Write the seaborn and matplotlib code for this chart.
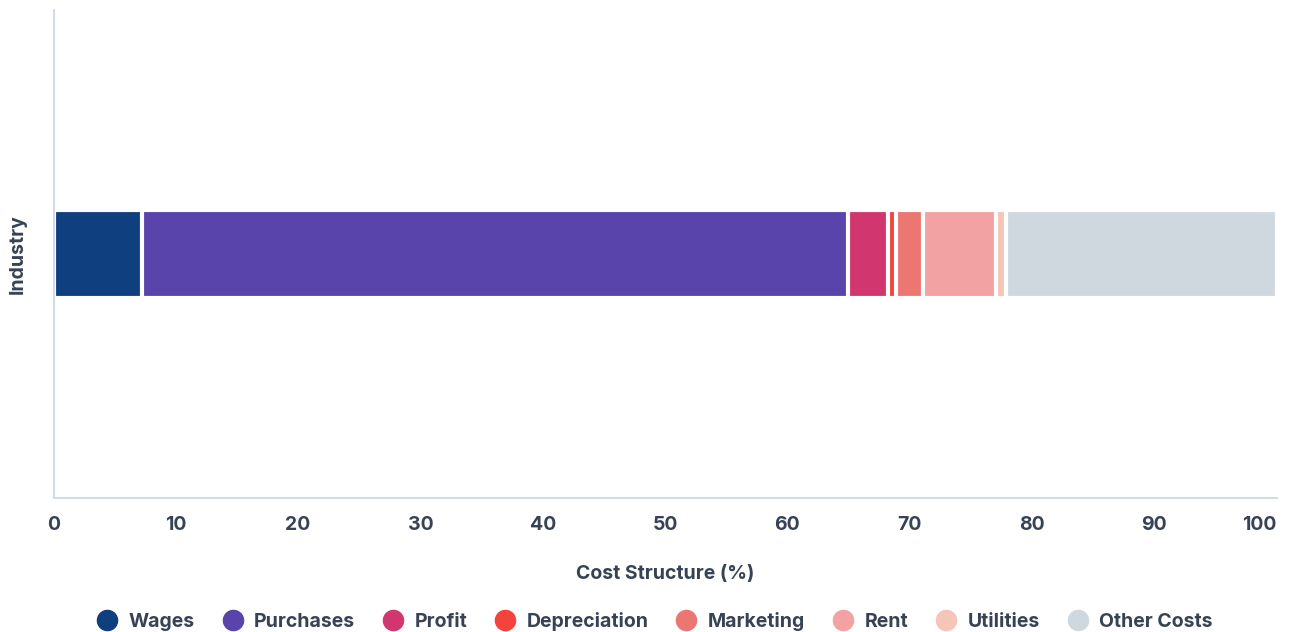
import matplotlib
matplotlib.use("Agg")
import matplotlib.pyplot as plt
from matplotlib.lines import Line2D
import seaborn as sns
import pandas as pd
import numpy as np

categories = ["Wages", "Purchases", "Profit", "Depreciation", "Marketing",
              "Rent", "Utilities", "Other Costs"]
values = [7.2, 57.8, 3.2, 0.7, 2.2, 6.0, 0.8, 22.1]
colors = ["#103f80", "#5944ab", "#d2366e", "#f3433a", "#ec7672",
          "#f2a2a2", "#f5c5b9", "#cfd8de"]
industry = ["Industry"]
xticks = [0, 10, 20, 30, 40, 50, 60, 70, 80, 90, 100]

TEXT = "#374354"
SPINE = "#d3dbeb"
FS = 14
FW = "bold"

sns.set_theme(style="white")
plt.rcParams["font.family"] = ["Inter", "DejaVu Sans"]

fig = plt.figure(figsize=(12.89, 6.32), dpi=100)
ax = fig.add_axes([53.5 / 1289, 1 - 498 / 632, (1276.5 - 53.5) / 1289, 488 / 632])

cum = np.cumsum(values)
df = pd.DataFrame({"sector": industry * len(categories),
                   "category": categories,
                   "cum": cum})

# draw cumulative bars from longest to shortest so each shows its own segment
for i in range(len(categories) - 1, -1, -1):
    sub = df.iloc[[i]]
    sns.barplot(data=sub, x="cum", y="sector", orient="h", color=colors[i],
                width=0.82, edgecolor="white", linewidth=3.0, saturation=1,
                ax=ax)

ax.set_xlim(0, 100)
ax.set_ylim(2.27, -2.27)
ax.set_xticks(xticks)
ax.set_xticklabels([str(t) for t in xticks])
ax.set_yticks([])
ax.tick_params(axis="x", length=0, pad=13, labelsize=FS, labelcolor=TEXT)
for lbl in ax.get_xticklabels():
    lbl.set_fontweight(FW)
ax.get_xticklabels()[-1].set_horizontalalignment("right")

for s in ["top", "right"]:
    ax.spines[s].set_visible(False)
for s in ["left", "bottom"]:
    ax.spines[s].set_color(SPINE)
    ax.spines[s].set_linewidth(1.5)

ax.set_xlabel("Cost Structure (%)", fontsize=FS, fontweight=FW,
              color=TEXT, labelpad=22)
ax.set_ylabel("Industry", fontsize=FS, fontweight=FW,
              color=TEXT, labelpad=19)

handles = [Line2D([0], [0], marker="o", linestyle="", markersize=14.5,
                  markerfacecolor=c, markeredgecolor=c) for c in colors]
fig.legend(handles, categories, loc="center", bbox_to_anchor=(0.507, 0.017),
           ncol=len(categories), frameon=False, handletextpad=0.45,
           columnspacing=1.3, handlelength=1.3,
           prop={"size": FS, "weight": FW}, labelcolor=TEXT)

fig.savefig("out.png", dpi=100)
